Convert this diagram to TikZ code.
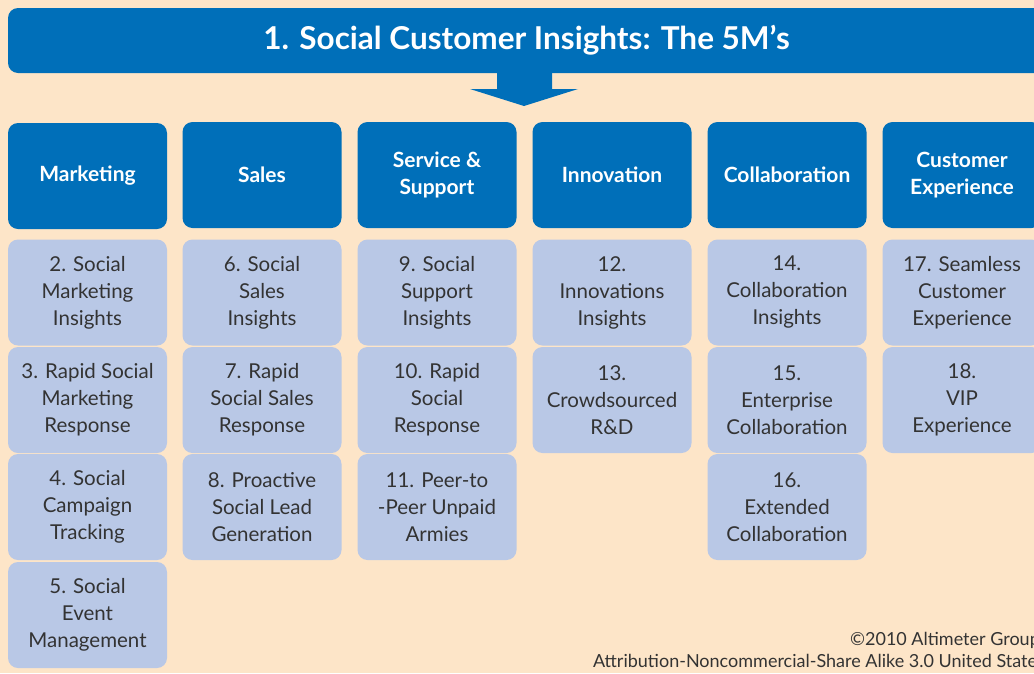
\documentclass[tikz,border=0pt]{standalone}
\usepackage{fontspec}
\setmainfont{Lato}
\definecolor{bg}{HTML}{FDE5C8}
\definecolor{mblue}{HTML}{006FB9}
\definecolor{lblue}{HTML}{B9C8E6}
\definecolor{txt}{HTML}{333333}
\tikzset{
  hdr/.style={fill=mblue, rounded corners=10pt, minimum width=159pt, minimum height=106pt, inner sep=0pt,
    text=white, align=center, font=\fontsize{21}{27}\selectfont\bfseries},
  lbox/.style={fill=lblue, rounded corners=10pt, minimum width=159pt, minimum height=106pt, inner sep=0pt,
    text=txt, align=center, font=\fontsize{20.5}{27}\selectfont},
  foot/.style={text=txt, anchor=base east, inner sep=0pt, font=\fontsize{18}{20}\selectfont}
}
\begin{document}
\begin{tikzpicture}[x=1pt,y=-1pt]
\useasboundingbox (0,0) rectangle (1034,673);
\clip (0,0) rectangle (1034,673);
\fill[bg] (0,0) rectangle (1034,673);
% title
\node[fill=mblue, rounded corners=10pt, minimum width=1037pt, minimum height=65pt, inner sep=0pt,
  text=white, font=\fontsize{31.5}{34}\selectfont\bfseries] (title) at (526.5,40.5) {1. Social Customer Insights: The 5M’s};
\fill[mblue] (497,72) -- (552,72) -- (552,89) -- (578,89) -- (524,106) -- (470,89) -- (497,89) -- cycle;
% headers
\node[hdr] (h1) at (87.5,176) {Marketing};
\node[hdr] (h2) at (262,175) {Sales};
\node[hdr] (h3) at (437,175) {Service \&\\Support};
\node[hdr] (h4) at (612,175) {Innovation};
\node[hdr] (h5) at (787,175) {Collaboration};
\node[hdr] (h6) at (962,175) {Customer\\Experience};
% column 1
\node[lbox] (b2) at (87.5,292.5) {2. Social\\Marketing\\Insights};
\node[lbox] (b3) at (87.5,400) {3. Rapid Social\\Marketing\\Response};
\node[lbox] (b4) at (87.5,507) {4. Social\\Campaign\\Tracking};
\node[lbox] (b5) at (87.5,615) {5. Social\\Event\\Management};
% column 2
\node[lbox] (b6) at (262,292.5) {6. Social\\Sales\\Insights};
\node[lbox] (b7) at (262,400) {7. Rapid\\Social Sales\\Response};
\node[lbox] (b8) at (262,507) {8. Proactive\\Social Lead\\Generation};
% column 3
\node[lbox] (b9) at (437,292.5) {9. Social\\Support\\Insights};
\node[lbox] (b10) at (437,400) {10. Rapid\\Social\\Response};
\node[lbox] (b11) at (437,507) {11. Peer-to\\-Peer Unpaid\\Armies};
% column 4
\node[lbox] (b12) at (612,292.5) {12.\\Innovations\\Insights};
\node[lbox] (b13) at (612,400) {13.\\Crowdsourced\\R\&D};
% column 5
\node[lbox] (b14) at (787,292.5) {14.\\Collaboration\\Insights};
\node[lbox] (b15) at (787,400) {15.\\Enterprise\\Collaboration};
\node[lbox] (b16) at (787,507) {16.\\Extended\\Collaboration};
% column 6
\node[lbox] (b17) at (962,292.5) {17. Seamless\\Customer\\Experience};
\node[lbox] (b18) at (962,400) {18.\\VIP\\Experience};
% footer
\node[foot] (f1) at (1040,645) {©2010 Altimeter Group};
\node[foot] (f2) at (1045,667) {Attribution-Noncommercial-Share Alike 3.0 United States};
\end{tikzpicture}
\end{document}
